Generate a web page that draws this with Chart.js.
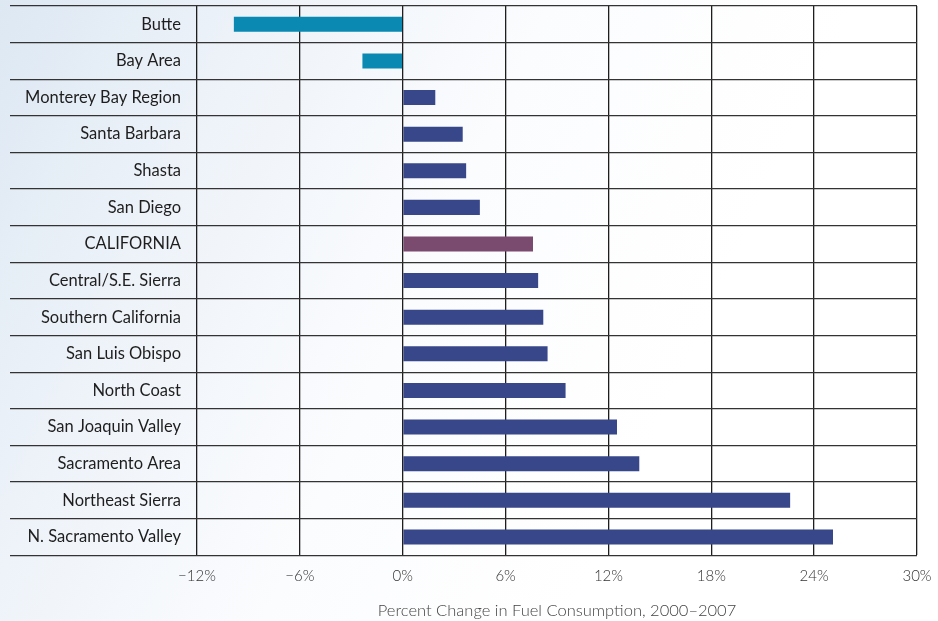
<!DOCTYPE html>
<html>
<head>
<meta charset="utf-8">
<script src="https://cdn.jsdelivr.net/npm/chart.js@4"></script>
<style>
  html, body { margin: 0; padding: 0; }
  body {
    width: 938px; height: 621px; overflow: hidden;
    background: linear-gradient(115deg, #dde8f3 0%, #eef3f9 22%, #fbfcfe 45%, #ffffff 70%);
  }
  #wrap { position: relative; width: 938px; height: 621px; }
</style>
</head>
<body>
<div id="wrap"><canvas id="fuelChart"></canvas></div>
<script>
// regions, top to bottom
var regions = ["Butte", "Bay Area", "Monterey Bay Region", "Santa Barbara", "Shasta", "San Diego",
  "CALIFORNIA", "Central/S.E. Sierra", "Southern California", "San Luis Obispo", "North Coast",
  "San Joaquin Valley", "Sacramento Area", "Northeast Sierra", "N. Sacramento Valley"];
// percent change 2000-2007
var change = [-9.85, -2.35, 1.9, 3.5, 3.7, 4.5, 7.6, 7.9, 8.2, 8.45, 9.5, 12.5, 13.8, 22.6, 25.1];
var xTicks = [-12, -6, 0, 6, 12, 18, 24, 30];

var barColors = change.map(function (v, i) {
  if (regions[i] === "CALIFORNIA") return "#7a4b6f";
  return v < 0 ? "#0a89b2" : "#374789";
});

var ctx = document.getElementById("fuelChart").getContext('2d');
var fuelChart = new Chart(ctx, {
  type: 'bar',
  data: {
    labels: regions,
    datasets: [{
      data: change,
      backgroundColor: barColors,
      borderWidth: 0,
      barPercentage: 0.41,
      categoryPercentage: 1.0
    }]
  },
  options: {
    indexAxis: 'y',
    responsive: true,
    maintainAspectRatio: false,
    animation: false,
    layout: { padding: { left: 10, right: 21, top: 6, bottom: 0 } },
    plugins: { legend: { display: false }, tooltip: { enabled: false } },
    scales: {
      x: {
        min: -12, max: 30, z: 1,
        afterBuildTicks: function (scale) {
          scale.ticks = xTicks.map(function (v) { return { value: v }; });
        },
        afterFit: function (scale) { scale.paddingLeft = 0; scale.paddingRight = 0; },
        grid: { color: '#1e1e1e', lineWidth: 1.3, drawTicks: false },
        border: { display: false },
        ticks: {
          padding: 12,
          color: '#333',
          font: { family: 'Lato', size: 15, weight: 300 },
          callback: function (v) { return (v < 0 ? '\u2212' + Math.abs(v) : v) + '%'; }
        },
        title: {
          display: true,
          text: 'Percent Change in Fuel Consumption, 2000\u20132007',
          color: '#444',
          font: { family: 'Lato', size: 16.5, weight: 300 },
          padding: { top: 4, bottom: 0 }
        }
      },
      y: {
        afterFit: function (scale) { scale.width = 187; },
        grid: { offset: true, color: '#333', lineWidth: 1.2, drawTicks: true, tickLength: 187 },
        border: { display: false },
        ticks: {
          padding: -171,
          color: '#1e1e1e',
          font: { family: 'Lato', size: 16.5 }
        }
      }
    }
  }
});
</script>
</body>
</html>
